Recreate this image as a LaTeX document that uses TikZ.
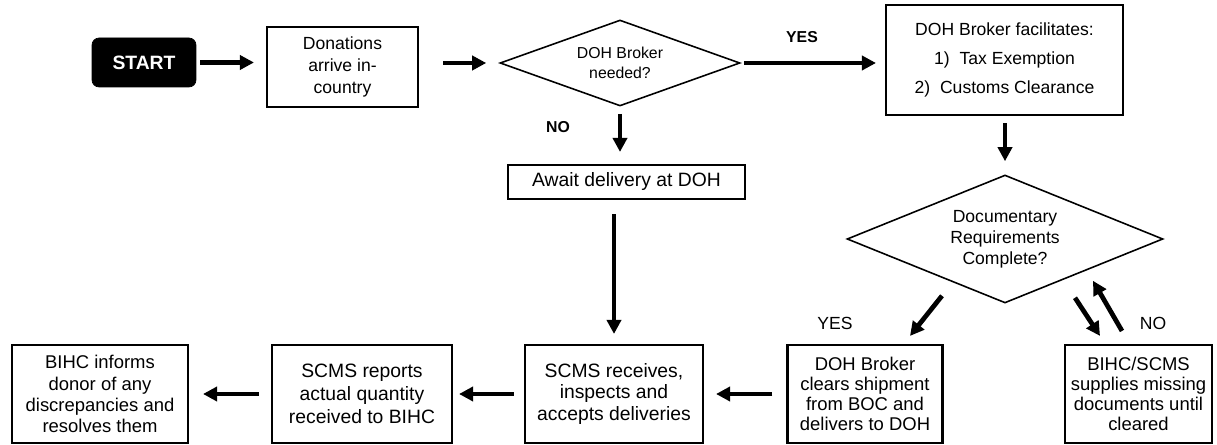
\documentclass[tikz,border=0pt]{standalone}
\usepackage{fontspec}
\setmainfont{Liberation Sans}
\usetikzlibrary{arrows.meta,shapes.geometric}

\tikzset{
    box/.style={draw, line width=1.2pt, align=center, inner sep=1pt},
    decision/.style={draw, diamond, line width=0.9pt, align=center, inner sep=0pt, aspect=2.8},
    startbox/.style={draw, fill=black, text=white, rounded corners=4pt, font=\bfseries\fontsize{11}{13}\selectfont},
    flow/.style={-{Triangle[length=8pt,width=8pt]}, line width=2.7pt},
    lbl/.style={font=\fontsize{10}{12}\selectfont},
}

\begin{document}
\begin{tikzpicture}[x=0.02cm, y=-0.02cm]
    \useasboundingbox (0,0) rectangle (1217,445);

    % 上段
    \node[startbox, minimum width=2.08cm, minimum height=0.98cm] (start) at (144,62.5) {START};
    \node[box, minimum width=3.02cm, minimum height=1.6cm, font=\fontsize{10}{12.5}\selectfont] (donate) at (342.5,67) {Donations\\arrive in-\\country};
    \node[decision, minimum width=4.8cm, minimum height=1.72cm, font=\fontsize{9}{11.5}\selectfont] (need) at (620,63) {DOH Broker\\needed?};
    \node[box, minimum width=4.74cm, minimum height=2.2cm, font=\fontsize{10}{16.5}\selectfont] (facil) at (1004.5,60) {DOH Broker facilitates:\\1)\ \ Tax Exemption\\2)\ \ Customs Clearance};

    % 中段
    \node[box, minimum width=4.74cm, minimum height=0.68cm, font=\fontsize{11}{13}\selectfont] (await) at (626.5,182) {Await delivery at DOH};
    \node[decision, minimum width=6.32cm, minimum height=2.56cm, font=\fontsize{10}{12}\selectfont] (docreq) at (1005,239) {Documentary\\Requirements\\Complete?};

    % 下段
    \node[box, minimum width=3.52cm, minimum height=1.96cm, font=\fontsize{10.5}{12}\selectfont] (inform) at (100,394) {BIHC informs\\donor of any\\discrepancies and\\resolves them};
    \node[box, minimum width=3.6cm, minimum height=1.96cm, font=\fontsize{11}{13}\selectfont] (reports) at (362,394) {SCMS reports\\actual quantity\\received to BIHC};
    \node[box, minimum width=3.56cm, minimum height=1.96cm, font=\fontsize{11}{12}\selectfont] (receive) at (614,394) {SCMS receives,\\inspects and\\accepts deliveries};
    \node[box, minimum width=3.1cm, minimum height=1.96cm, font=\fontsize{10.5}{11.5}\selectfont] (clears) at (865,394) {DOH Broker\\clears shipment\\from BOC and\\delivers to DOH};
    \node[box, minimum width=2.94cm, minimum height=1.96cm, font=\fontsize{10.5}{11.5}\selectfont] (supply) at (1138.5,394) {BIHC/SCMS\\supplies missing\\documents until\\cleared};

    % ラベル
    \node[lbl, font=\bfseries\fontsize{9}{11}\selectfont] (yesA) at (802,37) {YES};
    \node[lbl, font=\bfseries\fontsize{9}{11}\selectfont] (noA) at (558,127) {NO};
    \node[lbl] (yesB) at (835,323) {YES};
    \node[lbl] (noB) at (1153,323) {NO};

    % 矢印
    \draw[flow, shorten <=0.08cm, shorten >=0.24cm] (start.east) -- (start.east -| donate.west);
    \draw[flow, shorten <=0.48cm, shorten >=0.26cm] (donate.east |- need.west) -- (need.west);
    \draw[flow, shorten <=0.06cm, shorten >=0.18cm] (need.east) -- (need.east -| facil.west);
    \draw[flow, shorten <=0.14cm, shorten >=0.24cm] (need.south) -- (need.south |- await.north);
    \draw[flow, shorten <=0.28cm, shorten >=0.2cm] (await.south -| receive.north) -- (receive.north);
    \draw[flow, shorten <=0.14cm, shorten >=0.26cm] (facil.south -| docreq.north) -- (docreq.north);

    \draw[flow] ([xshift=-1.26cm, yshift=0.16cm]docreq.south) -- ([xshift=0.9cm, yshift=0.16cm]clears.north);
    \draw[flow] ([xshift=1.4cm, yshift=0.12cm]docreq.south) -- ([xshift=-0.77cm, yshift=0.16cm]supply.north);
    \draw[flow] ([xshift=-0.33cm, yshift=0.26cm]supply.north) -- ([xshift=1.76cm, yshift=0.46cm]docreq.south);

    \draw[flow, shorten <=0.28cm, shorten >=0.24cm] (clears.west) -- (clears.west -| receive.east);
    \draw[flow, shorten <=0.2cm, shorten >=0.12cm] (receive.west) -- (receive.west -| reports.east);
    \draw[flow, shorten <=0.24cm, shorten >=0.28cm] (reports.west) -- (reports.west -| inform.east);

\end{tikzpicture}
\end{document}
